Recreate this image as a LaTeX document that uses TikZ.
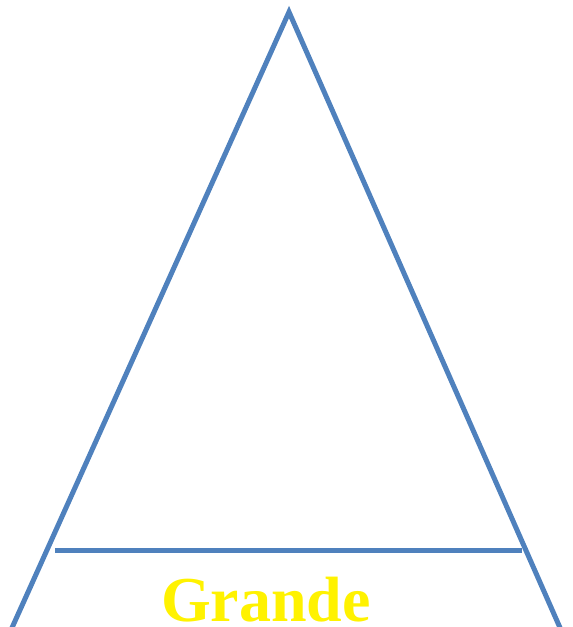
\documentclass[tikz,border=0pt]{standalone}
\usepackage{fontspec}
\setmainfont{Liberation Serif}
\definecolor{lineblue}{HTML}{4F81BD}
\begin{document}
\begin{tikzpicture}[x=1pt,y=-1pt]
            \useasboundingbox (0,0) rectangle (573,627);
            \clip (0,0) rectangle (573,627);
            \coordinate (top) at (289,12);
            \coordinate (bl) at (11,630);
            \coordinate (br) at (561,630);
            \coordinate (hl) at (55,550);
            \coordinate (hr) at (522,550);
            \draw[line width=5pt, lineblue, line join=miter] (bl) -- (top) -- (br);
            \draw[line width=5pt, lineblue] (hl) -- (hr);
            \node[anchor=base, text=yellow, font=\fontsize{64}{64}\selectfont\bfseries, inner sep=0pt] (word) at (266,621) {Grande};
        \end{tikzpicture}
\end{document}
